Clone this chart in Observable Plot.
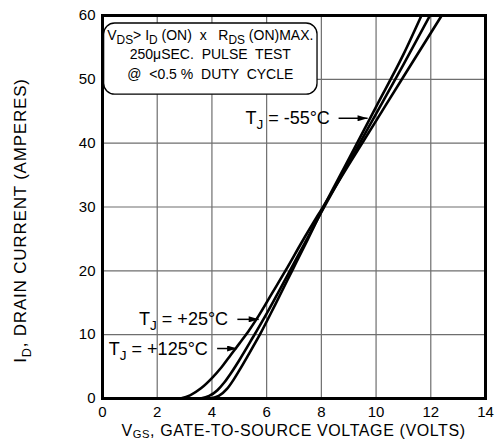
<!DOCTYPE html>
<html><head><meta charset="utf-8">
<script src="https://cdn.jsdelivr.net/npm/d3@7"></script>
<script src="https://cdn.jsdelivr.net/npm/@observablehq/plot@0.6"></script>
<style>
body{margin:0;background:#fff}
svg{font-family:"Liberation Sans",Arial,Helvetica,sans-serif}
</style>
</head><body><div id="chart"></div>
<script>
// Transfer characteristics: ID vs VGS at three junction temperatures
const vgsM55 = [3.95,4.25,4.55,4.8,5.0,5.3,5.75,6.3,6.93,7.5,8.0,9.0,10.0,11.0,11.66];
const idM55  = [0,0.4,1.5,3.0,4.4,6.6,10.0,14.6,20.0,24.9,29.3,37.5,45.7,53.9,60];
const vgs25  = [3.58,3.9,4.2,4.45,4.7,5.0,5.5,6.0,6.8,7.4,8.0,9.0,10.0,11.0,11.97];
const id25   = [0,0.4,1.3,2.5,4.0,6.0,9.6,13.3,19.6,24.4,29.2,36.9,44.6,52.3,60];
const vgs125 = [2.85,3.2,3.6,4.0,4.35,4.7,5.0,5.33,5.7,6.2,6.7,7.3,8.0,9.0,10.0,11.0,12.4];
const id125  = [0,0.5,1.6,3.2,4.9,6.9,8.6,10.5,12.9,16.5,20.1,24.6,29.6,36.6,43.5,50.4,60];

const xTicks = [0,2,4,6,8,10,12,14];
const yTicks = [0,10,20,30,40,50,60];

// Temperature labels (text end, arrow start, arrow tip in data units)
const tempLabels = ["-55°C","+25°C","+125°C"];
const labelEndV  = [8.33,4.61,3.87];
const arrowFromV = [8.63,4.93,4.19];
const arrowToV   = [9.69,5.71,4.92];
const labelI     = [43.9,12.4,7.83];

// Conditions box (data units)
const boxV = [0.06,7.86];
const boxI = [47.6,58.75];
const noteLines = [
  [["V"],["DS",1],["> I"],["D",1],[" (ON)  x   R"],["DS",1],[" (ON)MAX."]],
  [["250μSEC.  PULSE  TEST"]],
  [["@  <0.5 %  DUTY  CYCLE"]]
];
const noteI = [56.9,53.9,50.8];

const series = [
  {T:"-55", v:vgsM55, i:idM55},
  {T:"25",  v:vgs25,  i:id25},
  {T:"125", v:vgs125, i:id125}
];
const rows = series.flatMap(s => s.v.map((v,k) => ({T:s.T, v, i:s.i[k]})));
const arrows = tempLabels.map((t,k) => ({x1:arrowFromV[k], x2:arrowToV[k], y:labelI[k]}));

const plot = Plot.plot({
  width:496, height:442,
  marginLeft:102, marginRight:11, marginTop:15, marginBottom:44,
  style:{fontFamily:"Liberation Sans, Arial, Helvetica, sans-serif", fontSize:"15px", background:"white", color:"black"},
  x:{domain:[0,14], ticks:xTicks, tickSize:0, tickPadding:8, label:null},
  y:{domain:[0,60], ticks:yTicks, tickSize:0, tickPadding:7, label:null},
  marks:[
    Plot.ruleX(xTicks.slice(1,-1), {stroke:"#6e6e6e", strokeWidth:1.2}),
    Plot.ruleY(yTicks.slice(1,-1), {stroke:"#6e6e6e", strokeWidth:1.2}),
    Plot.rect([{x1:boxV[0],x2:boxV[1],y1:boxI[0],y2:boxI[1]}], {x1:"x1",x2:"x2",y1:"y1",y2:"y2", fill:"white", stroke:"black", strokeWidth:1.3, rx:11}),
    Plot.line(rows, {x:"v", y:"i", z:"T", stroke:"black", strokeWidth:2.6, curve:"monotone-x"}),
    Plot.link(arrows, {x1:"x1", x2:"x2", y1:"y", y2:"y", stroke:"black", strokeWidth:1.5}),
    Plot.frame({stroke:"black", strokeWidth:3})
  ]
});

const sx = plot.scale("x"), sy = plot.scale("y");
const svg = d3.select(plot);

// filled arrowheads
svg.insert("defs", ":first-child").append("marker")
  .attr("id","tri").attr("viewBox","0 0 10 6").attr("refX",10).attr("refY",3)
  .attr("markerUnits","userSpaceOnUse").attr("markerWidth",11).attr("markerHeight",6)
  .attr("orient","auto")
  .append("path").attr("d","M0,0L10,3L0,6z").attr("fill","black");
svg.selectAll('g[aria-label="link"] path').attr("marker-end","url(#tri)");

function richText(parent, x, y, parts, size, anchor, rotate, spacing, subScale, shift) {
  const ss = subScale || 0.75;
  const sh = shift || 0.28;
  const t = parent.append("text")
    .attr("x", x).attr("y", y)
    .attr("text-anchor", anchor)
    .attr("font-size", size)
    .attr("fill","black")
    .style("white-space","pre");
  if (spacing) t.attr("letter-spacing", spacing);
  if (rotate) t.attr("transform", `rotate(${rotate},${x},${y})`);
  let shifted = false;
  parts.forEach(([s, sub]) => {
    const ts = t.append("tspan").text(s);
    if (sub && !shifted) { ts.attr("dy", size*sh).attr("font-size", size*ss); shifted = true; }
    else if (!sub && shifted) { ts.attr("dy", -size*sh); shifted = false; }
  });
  return t;
}

const g = svg.append("g");
// temperature labels
tempLabels.forEach((lab,k) => {
  richText(g, sx.apply(labelEndV[k]), sy.apply(labelI[k]) + 6.5, [["T"],["J",1],[" = " + lab]], 18, "end");
});
// conditions text
const cx = sx.apply((boxV[0]+boxV[1])/2);
noteLines.forEach((parts,k) => {
  richText(g, cx, sy.apply(noteI[k]) + 5, parts, 14, "middle", 0, 0, 0.85);
});
// axis titles
const [r0, r1] = sx.range;
richText(g, (r0+r1)/2, 435.5, [["V"],["GS",1],[", GATE-TO-SOURCE VOLTAGE (VOLTS)"]], 16, "middle", 0, 0.6, 0.7, 0.14);
const [yr0, yr1] = sy.range;
richText(g, 26, (yr0+yr1)/2 + 14, [["I"],["D",1],[", DRAIN CURRENT (AMPERES)"]], 17, "middle", -90, 0.8);

document.getElementById("chart").appendChild(plot);
</script>
</body></html>
